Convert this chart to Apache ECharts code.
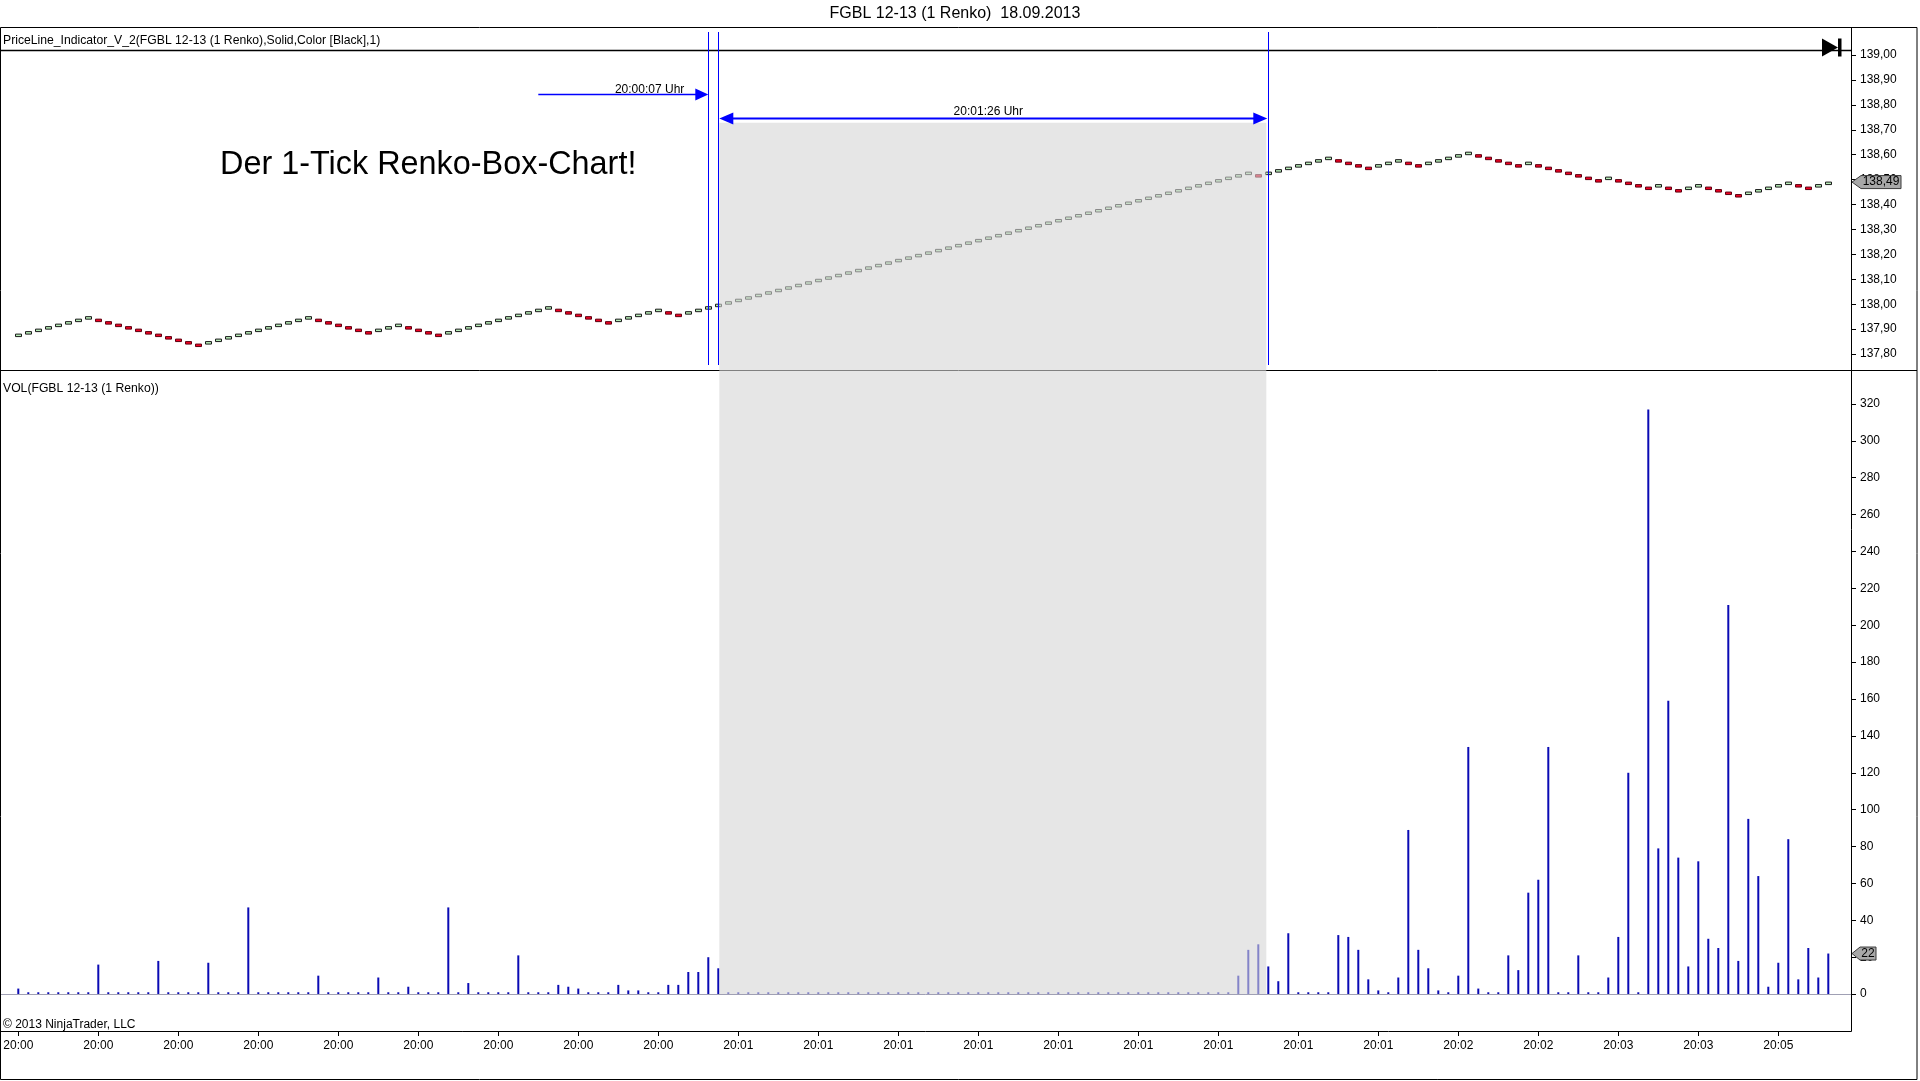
<!DOCTYPE html>
<html>
<head>
<meta charset="utf-8">
<script src="https://cdn.jsdelivr.net/npm/echarts@6/dist/echarts.min.js"></script>
<style>
html,body{margin:0;padding:0;background:#fff;}
#c{width:1920px;height:1081px;}
</style>
</head>
<body>
<div id="c"></div>
<script>
// ---------------- data ----------------
const chartTitle = 'FGBL 12-13 (1 Renko)  18.09.2013';
const priceHeader = 'PriceLine_Indicator_V_2(FGBL 12-13 (1 Renko),Solid,Color [Black],1)';
const volHeader = 'VOL(FGBL 12-13 (1 Renko))';
const headline = 'Der 1-Tick Renko-Box-Chart!';
const copyright = '\u00A9 2013 NinjaTrader, LLC';
const tickSize = 0.01;

// lower edge of each 1-tick renko brick
const brickLow = [
  137.87,137.88,137.89,137.90,137.91,137.92,137.93,137.94,
  137.93,137.92,137.91,137.90,137.89,137.88,137.87,137.86,137.85,137.84,137.83,
  137.84,137.85,137.86,137.87,137.88,137.89,137.90,137.91,137.92,137.93,137.94,
  137.93,137.92,137.91,137.90,137.89,137.88,
  137.89,137.90,137.91,
  137.90,137.89,137.88,137.87,
  137.88,137.89,137.90,137.91,137.92,137.93,137.94,137.95,137.96,137.97,137.98,
  137.97,137.96,137.95,137.94,137.93,137.92,
  137.93,137.94,137.95,137.96,137.97,
  137.96,137.95,
  137.96,137.97,137.98,
  137.99,138.00,138.01,138.02,138.03,138.04,138.05,138.06,138.07,138.08,
  138.09,138.10,138.11,138.12,138.13,138.14,138.15,138.16,138.17,138.18,
  138.19,138.20,138.21,138.22,138.23,138.24,138.25,138.26,138.27,138.28,
  138.29,138.30,138.31,138.32,138.33,138.34,138.35,138.36,138.37,138.38,
  138.39,138.40,138.41,138.42,138.43,138.44,138.45,138.46,138.47,138.48,
  138.49,138.50,138.51,138.52,
  138.51,
  138.52,138.53,138.54,138.55,138.56,138.57,138.58,
  138.57,138.56,138.55,138.54,
  138.55,138.56,138.57,
  138.56,138.55,
  138.56,138.57,138.58,138.59,138.60,
  138.59,138.58,138.57,138.56,138.55,
  138.56,
  138.55,138.54,138.53,138.52,138.51,138.50,138.49,
  138.50,
  138.49,138.48,138.47,138.46,
  138.47,
  138.46,138.45,
  138.46,138.47,
  138.46,138.45,138.44,138.43,
  138.44,138.45,138.46,138.47,138.48,
  138.47,138.46,
  138.47,138.48
];

// volume per brick
const volume = [
  3,1,1,1,1,1,1,1,16,1,
  1,1,1,1,18,1,1,1,1,17,
  1,1,1,47,1,1,1,1,1,1,
  10,1,1,1,1,1,9,1,1,4,
  1,1,1,47,1,6,1,1,1,1,
  21,1,1,1,5,4,3,1,1,1,
  5,2,2,1,1,5,5,12,12,20,
  14,1,1,1,1,1,1,1,1,1,
  1,1,1,1,1,1,1,1,1,1,
  1,1,1,1,1,1,1,1,1,1,
  1,1,1,1,1,1,1,1,1,1,
  1,1,1,1,1,1,1,1,1,1,
  1,1,10,24,27,15,7,33,1,1,
  1,1,32,31,24,8,2,1,9,89,
  24,14,2,1,10,134,3,1,1,21,
  13,55,62,134,1,1,21,1,1,9,
  31,120,1,317,79,159,74,15,72,30,
  25,211,18,95,64,4,17,84,8,25,
  9,22
];

const timeLabels = ['20:00','20:00','20:00','20:00','20:00','20:00','20:00','20:00','20:00',
  '20:01','20:01','20:01','20:01','20:01','20:01','20:01','20:01','20:01',
  '20:02','20:02','20:03','20:03','20:05'];
const labelEvery = 8;
const priceTicks = [137.8,137.9,138.0,138.1,138.2,138.3,138.4,138.5,138.6,138.7,138.8,138.9,139.0];
const volTicks = [0,20,40,60,80,100,120,140,160,180,200,220,240,260,280,300,320];
const priceLineLevel = 139.02;
const markerBricks = [69, 70, 125];
const arrowFirst = {from: 52, to: 69, price: 138.843, text: '20:00:07 Uhr'};
const arrowSecond = {from: 70, to: 125, price: 138.749, text: '20:01:26 Uhr'};
const shade = {from: 70, to: 125, topPrice: 138.728, bottomVol: 0};

// ---------------- build ----------------
const FONT = '"Liberation Sans", Arial, sans-serif';
const cats = brickLow.map((_, i) => String(i));
const renko = brickLow.map((low, i) => {
  const high = Math.round((low + tickSize) * 100) / 100;
  const up = i === 0 ? true : low > brickLow[i - 1];
  return up ? [low, high, low, high] : [high, low, low, high];
});
const lastClose = renko[renko.length - 1][1];
const lastVol = volume[volume.length - 1];
const fmtPrice = v => Number(v).toFixed(2).replace('.', ',');

const chart = echarts.init(document.getElementById('c'));
const option = {
  animation: false,
  backgroundColor: '#ffffff',
  grid: [
    {left: 13.3, width: 1820, top: 32, height: 333},
    {left: 13.3, width: 1820, top: 367, height: 664}
  ],
  xAxis: [
    {type: 'category', gridIndex: 0, data: cats, boundaryGap: true, show: false,
      axisLine: {show: false, onZero: false}},
    {type: 'category', gridIndex: 1, data: cats, boundaryGap: true, position: 'bottom',
      axisLine: {show: false, onZero: false},
      axisTick: {show: true, alignWithLabel: true, length: 5, interval: (i) => i % labelEvery === 0,
        lineStyle: {color: '#000', width: 1}},
      axisLabel: {show: true, interval: (i) => i % labelEvery === 0, margin: 9,
        formatter: (v, i) => timeLabels[Math.round(i / labelEvery)] || '',
        color: '#000', fontSize: 12, fontFamily: FONT},
      splitLine: {show: false}
    }
  ],
  yAxis: [
    {type: 'value', gridIndex: 0, position: 'right', offset: 17.7, min: 137.756, max: 139.0923,
      axisLine: {show: false}, splitLine: {show: false},
      axisTick: {show: true, length: 5, customValues: priceTicks, lineStyle: {color: '#000'}},
      axisLabel: {show: true, customValues: priceTicks, margin: 9, formatter: fmtPrice,
        color: '#000', fontSize: 12, fontFamily: FONT}
    },
    {type: 'value', gridIndex: 1, position: 'right', offset: 17.7, min: -20, max: 340,
      axisLine: {show: false}, splitLine: {show: false},
      axisTick: {show: true, length: 5, customValues: volTicks, lineStyle: {color: '#000'}},
      axisLabel: {show: true, customValues: volTicks, margin: 9,
        color: '#000', fontSize: 12, fontFamily: FONT}
    }
  ],
  series: [
    {type: 'candlestick', name: 'Renko', xAxisIndex: 0, yAxisIndex: 0, data: renko,
      barWidth: 7, silent: true,
      itemStyle: {color: '#b8eeb8', color0: '#f20022', borderColor: '#1a1a1a', borderColor0: '#5c0010', borderWidth: 1}
    },
    {type: 'bar', name: 'VOL', xAxisIndex: 1, yAxisIndex: 1, data: volume,
      barWidth: 2, silent: true, itemStyle: {color: '#0a0ab4'}
    }
  ]
};
chart.setOption(option);

// ---------------- annotations positioned through the chart scales ----------------
const px = i => chart.convertToPixel({xAxisIndex: 0}, i);
const py = p => chart.convertToPixel({yAxisIndex: 0}, p);
const vy = v => chart.convertToPixel({yAxisIndex: 1}, v);

const FRAME_TOP = 27.5, DIVIDER = 370.5, XAXIS_Y = 1031.5, FRAME_BOTTOM = 1079.5, FRAME_RIGHT = 1917, AXIS_X = 1851.5;
const gTop = py(139.0923), gBottom = py(137.756);
const g = [];
const line = (x1, y1, x2, y2, color, w, z) => ({type: 'line', z: z || 20, silent: true,
  shape: {x1, y1, x2, y2}, style: {stroke: color, lineWidth: w}});
const text = (x, y, t, size, align, vAlign, z) => ({type: 'text', z: z || 30, silent: true, x, y,
  style: {text: t, fill: '#000', font: size + 'px ' + FONT, textAlign: align, textVerticalAlign: vAlign}});

// frame and dividers
g.push({type: 'rect', z: 20, silent: true, shape: {x: 0.5, y: FRAME_TOP, width: FRAME_RIGHT - 0.5, height: FRAME_BOTTOM - FRAME_TOP},
  style: {fill: 'none', stroke: '#000', lineWidth: 1}});
g.push(line(0, DIVIDER, FRAME_RIGHT, DIVIDER, '#000', 1));
g.push(line(AXIS_X, FRAME_TOP, AXIS_X, XAXIS_Y, '#000', 1));
g.push(line(0, XAXIS_Y, AXIS_X, XAXIS_Y, '#000', 1));
// price line indicator
const plY = Math.round(py(priceLineLevel)) + 0.5;
g.push(line(0, plY, AXIS_X, plY, '#000', 1.5));
// volume zero line
const zY = Math.round(vy(0)) + 0.5;
g.push(line(0, zY, AXIS_X, zY, '#a0a0b4', 1, 5));
// go-to-end icon
g.push({type: 'polygon', z: 40, silent: true, shape: {points: [[1822, 38.5], [1838, 47.5], [1822, 56.5]]}, style: {fill: '#000'}});
g.push({type: 'rect', z: 40, silent: true, shape: {x: 1838, y: 38.5, width: 3.5, height: 18}, style: {fill: '#000'}});

// vertical marker lines
markerBricks.forEach(i => {
  const x = Math.round(px(i)) + 0.5;
  g.push(line(x, gTop, x, gBottom, '#0000ff', 1, 60));
});

// arrows
function arrowHead(x, y, dir, len, half) {
  return {type: 'polygon', z: 60, silent: true,
    shape: {points: [[x, y], [x - dir * len, y - half], [x - dir * len, y + half]]}, style: {fill: '#0000ff'}};
}
{
  const y = Math.round(py(arrowFirst.price)) + 0.5;
  const x1 = px(arrowFirst.from), x2 = px(arrowFirst.to);
  g.push(line(x1, y, x2 - 10, y, '#0000ff', 1.5, 60));
  g.push(arrowHead(x2, y, 1, 13, 6));
  g.push(text(x2 - 24, y + 1, arrowFirst.text, 12, 'right', 'bottom', 60));
}
{
  const y = Math.round(py(arrowSecond.price)) + 0.5;
  const x1 = px(arrowSecond.from) + 1, x2 = px(arrowSecond.to) - 1;
  g.push(line(x1 + 10, y, x2 - 10, y, '#0000ff', 2, 60));
  g.push(arrowHead(x1, y, -1, 14, 6));
  g.push(arrowHead(x2, y, 1, 14, 6));
  g.push(text((x1 + x2) / 2 - 5, y - 1, arrowSecond.text, 12, 'center', 'bottom', 60));
}

// shaded overlay (drawn over the bars, as in the reference)
{
  const x1 = px(shade.from) + 1, x2 = px(shade.to) - 2;
  const y1 = py(shade.topPrice), y2 = vy(shade.bottomVol);
  g.push({type: 'rect', z: 50, silent: true, shape: {x: x1, y: y1, width: x2 - x1, height: y2 - y1},
    style: {fill: 'rgba(213,213,213,0.6)'}});
}

// texts
g.push(text(955, 14, chartTitle, 16, 'center', 'middle'));
g.push(text(3, 41, priceHeader, 12.2, 'left', 'middle'));
g.push(text(3, 389, volHeader, 12.2, 'left', 'middle'));
g.push(text(3, 1025, copyright, 12, 'left', 'middle'));
g.push(text(220, 165, headline, 32.4, 'left', 'middle'));

// last value tags on the axes
{
  const y = py(lastClose);
  g.push({type: 'polygon', z: 70, silent: true,
    shape: {points: [[1852, y], [1861, y - 6.5], [1901, y - 6.5], [1901, y + 6.5], [1861, y + 6.5]]},
    style: {fill: '#a8a8a8', stroke: '#3a3a3a', lineWidth: 1}});
  g.push(text(1881, y, fmtPrice(lastClose), 12, 'center', 'middle', 71));
}
{
  const y = vy(lastVol);
  g.push({type: 'polygon', z: 70, silent: true,
    shape: {points: [[1852, y], [1860, y - 6.5], [1876, y - 6.5], [1876, y + 6.5], [1860, y + 6.5]]},
    style: {fill: '#a8a8a8', stroke: '#3a3a3a', lineWidth: 1}});
  g.push(text(1868, y, String(lastVol), 12, 'center', 'middle', 71));
}

chart.setOption({graphic: {elements: g}});
</script>
</body>
</html>
